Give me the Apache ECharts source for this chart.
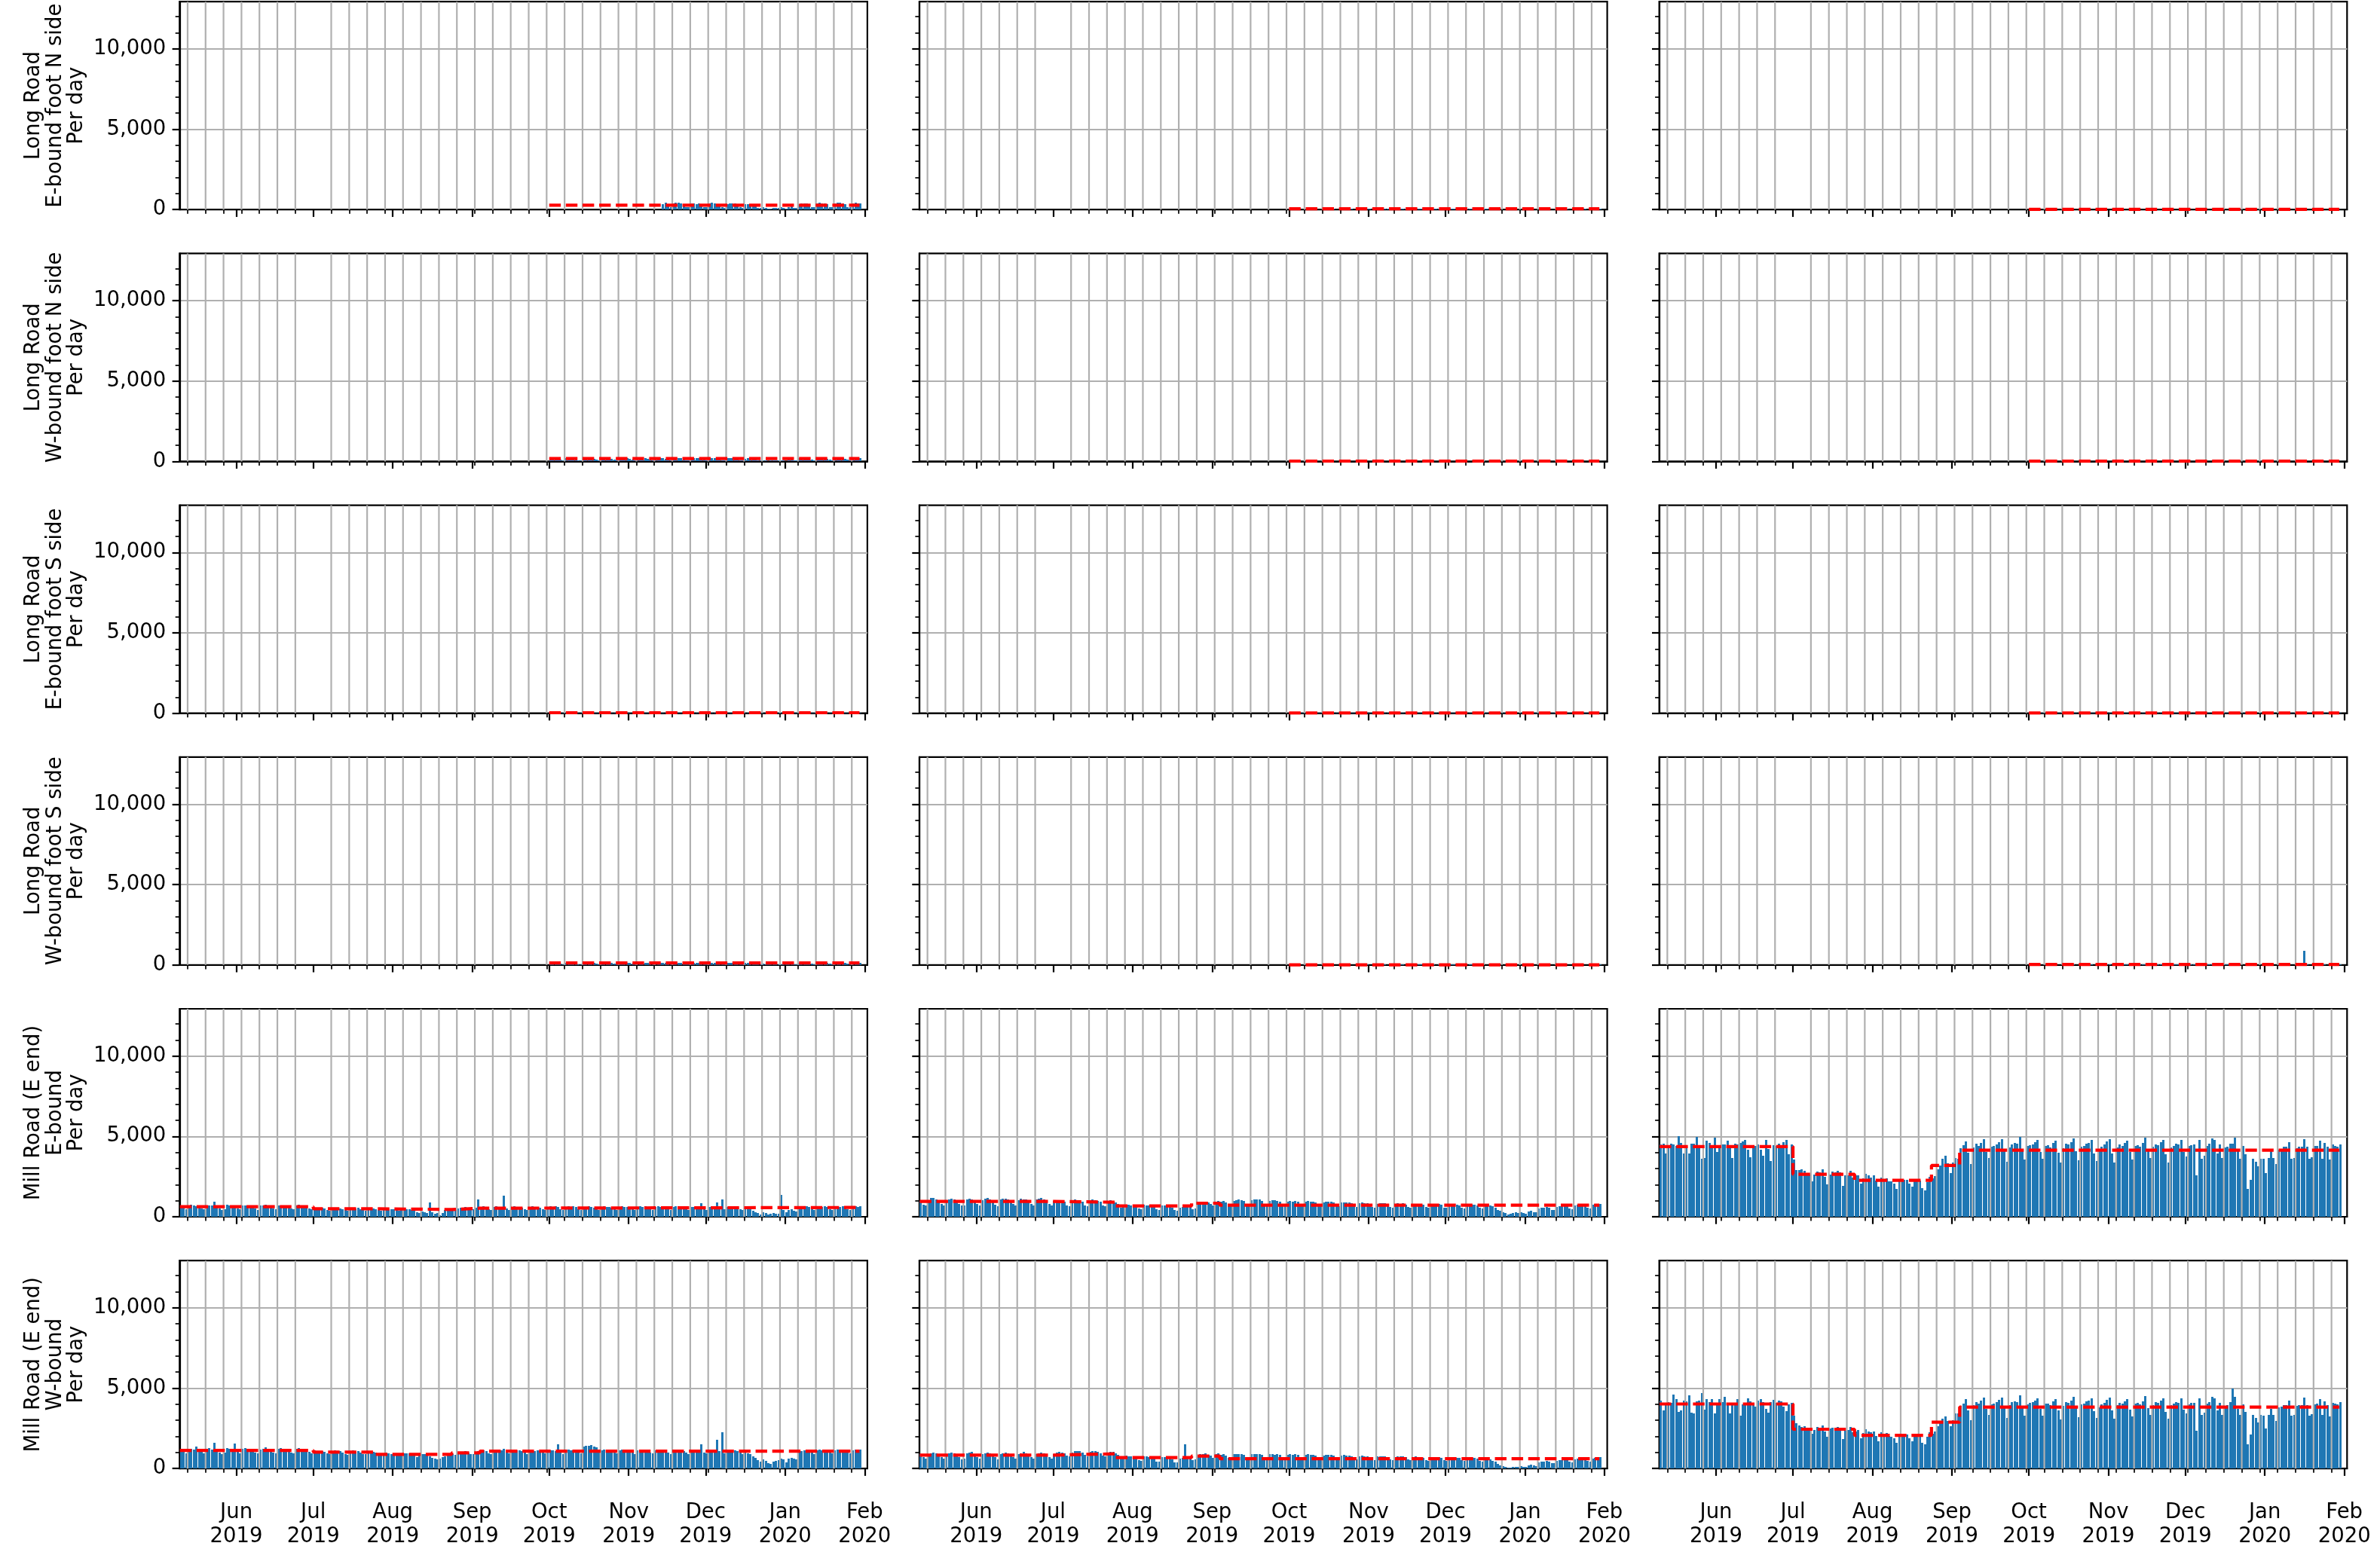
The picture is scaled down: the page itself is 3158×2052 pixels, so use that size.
<!DOCTYPE html>
<html>
<head>
<meta charset="utf-8">
<title>Daily counts</title>
<script src="https://cdn.jsdelivr.net/npm/echarts@6/dist/echarts.min.js"></script>
<style>
  html, body { margin: 0; padding: 0; background: #fff; }
  #chart { width: 3158px; height: 2052px; }
</style>
</head>
<body>
<div id="chart"></div>
<script>
// ---- axis data ----
const monthTicks = ['2019-06-01', '2019-07-01', '2019-08-01', '2019-09-01', '2019-10-01',
                    '2019-11-01', '2019-12-01', '2020-01-01', '2020-02-01'];
const monthTickLabels = ['Jun\n2019', 'Jul\n2019', 'Aug\n2019', 'Sep\n2019', 'Oct\n2019',
                         'Nov\n2019', 'Dec\n2019', 'Jan\n2020', 'Feb\n2020'];
const yTicks = [0, 5000, 10000];
const yTickLabels = ['0', '5,000', '10,000'];
const yMinorTicks = [1000, 2000, 3000, 4000, 6000, 7000, 8000, 9000, 11000, 12000];

const rowLabels = [
  'Long Road\nE-bound foot N side\nPer day',
  'Long Road\nW-bound foot N side\nPer day',
  'Long Road\nE-bound foot S side\nPer day',
  'Long Road\nW-bound foot S side\nPer day',
  'Mill Road (E end)\nE-bound\nPer day',
  'Mill Road (E end)\nW-bound\nPer day'
];

const lastDay = '2020-01-30';
// periods used for the red (mean) line
const fullPeriods = ['2019-05-10', '2019-07-01', '2019-07-25', '2019-08-24', '2019-09-04'];
const latePeriods = ['2019-10-01'];

// ---- daily counts ----
const lrEN1 = [ // from 14 Nov
  340,420,180,150,390,440,410,380,350,160,130,370,400,360,390,330,170,
  140,380,420,390,300,360,150,120,350,380,400,370,320,150,110,330,350,310,270,220,100,90,150,110,40,70,120,90,80,130,110,
  60,160,190,120,110,330,380,400,390,350,170,140,370,420,390,400,360,160,130,390,430,410,380,350,170,140,380,420,400,390];
const lrEN2 = [
  62,58,66,54,31,27,60,64,59,63,52,29,24,57,61,66,62,55,30,26,58,63,60,57,50,28,23,55,62,59,64,
  53,32,25,60,65,61,58,54,30,27,62,66,59,63,55,31,26,59,64,60,61,52,29,24,56,62,58,60,51,30,
  25,61,64,60,57,53,28,24,58,62,65,61,50,27,22,55,58,52,44,38,20,17,26,21,9,12,19,16,14,22,18,
  11,27,31,20,18,57,63,60,64,56,29,25,61,66,62,65,58,31,27,62,67,63,60,55,30,26,61,66,63,65];
const lrEN3 = [
  14,12,15,11,6,5,13,14,12,15,10,6,4,12,13,15,14,11,6,5,12,14,13,12,10,5,4,12,13,12,14,
  11,6,5,13,14,12,12,11,6,5,13,15,12,14,11,6,5,12,14,13,13,10,6,4,12,13,12,13,10,6,
  5,13,14,12,12,11,5,4,12,13,14,13,10,5,4,11,12,10,9,7,4,3,5,4,2,2,4,3,3,4,3,
  2,5,6,4,4,12,13,13,14,11,6,5,13,14,13,14,12,6,5,13,15,14,13,11,6,5,13,14,13,14];
const lrWN1 = [
  190,205,198,176,92,80,185,200,210,195,170,88,75,188,203,212,196,180,95,82,192,205,199,190,168,90,78,186,200,207,194,
  172,91,79,190,208,201,197,174,93,80,189,206,210,199,176,94,81,191,204,200,198,170,88,77,185,203,196,200,168,90,
  79,188,205,199,160,180,87,74,183,200,207,198,171,89,76,180,192,185,160,130,70,60,88,72,30,45,75,62,55,82,70,
  40,95,110,78,70,183,199,206,201,175,92,80,190,207,203,209,180,94,82,193,210,204,199,178,93,81,191,208,202,206];
const lrWN2 = [
  24,22,26,21,11,9,23,25,22,24,20,10,8,22,24,26,23,21,11,9,23,25,24,22,19,10,8,21,24,23,25,
  20,11,9,23,26,24,22,20,10,9,24,25,23,24,21,11,9,22,25,23,24,19,10,8,22,24,22,23,19,10,
  9,23,25,23,22,20,10,8,22,24,25,23,19,10,8,21,22,20,17,14,7,6,9,8,4,5,7,6,5,8,6,
  4,9,11,8,7,22,24,23,25,21,11,9,23,26,24,25,22,11,9,24,26,25,23,21,11,10,23,25,24,25];
const lrWN3 = [
  17,16,18,15,8,7,16,18,17,16,14,8,6,16,17,18,16,15,8,7,16,18,17,16,14,7,6,15,17,16,18,
  15,8,7,16,18,17,16,14,8,7,17,18,16,17,15,8,7,16,18,17,17,14,8,6,16,17,16,17,14,8,
  7,16,18,17,16,14,7,6,16,17,18,17,14,8,6,15,16,14,12,10,5,4,7,6,3,4,5,5,4,6,5,
  3,7,8,6,5,16,17,17,18,15,8,7,16,18,17,18,15,8,7,17,18,17,16,15,8,7,16,18,17,18];
const lrES1 = [
  35,33,37,31,15,13,34,36,33,35,29,14,12,33,35,37,34,31,15,13,34,36,35,33,28,14,12,32,35,34,36,
  30,15,13,34,37,35,33,30,15,13,35,36,34,35,31,15,13,33,36,34,35,29,14,12,33,35,33,34,28,14,
  13,33,36,34,32,29,14,11,33,35,36,34,28,14,11,31,33,30,26,21,10,8,13,11,5,7,11,9,8,12,10,
  6,13,16,12,10,33,35,34,36,31,15,13,34,37,35,36,32,15,13,35,37,36,34,31,15,14,34,36,35,36];
const lrES2 = [
  16,15,17,14,7,6,15,17,16,15,13,7,6,15,16,17,15,14,7,6,15,17,16,15,13,7,5,14,16,15,17,
  14,7,6,15,17,16,15,13,7,6,16,17,15,16,14,7,6,15,17,16,16,13,7,6,15,16,15,16,13,7,
  6,15,17,16,15,13,7,5,15,16,17,16,13,7,5,14,15,13,11,9,5,4,6,5,2,3,5,4,4,5,4,
  3,6,7,5,5,15,16,16,17,14,7,6,15,17,16,17,14,7,6,16,17,16,15,14,7,6,15,17,16,17];
const lrES3 = [
  14,16,15,17,8,6,15,16,18,15,14,7,6,16,15,17,16,13,8,6,14,16,15,17,13,7,6,15,16,17,15,
  13,7,6,16,15,17,16,14,7,6,15,16,17,15,13,8,6,16,15,16,17,14,7,5,16,15,17,15,12,7,
  6,16,15,17,14,13,7,5,16,15,16,17,12,7,5,15,14,13,12,8,4,4,6,5,2,3,4,5,3,5,4,
  3,5,7,6,4,15,16,17,16,14,7,6,16,15,17,16,14,8,6,15,17,16,15,13,7,6,16,15,17,16];
const lrWS1 = [
  135,142,138,128,62,55,132,140,146,137,120,60,52,131,141,148,136,125,64,56,134,142,139,132,117,61,53,130,139,144,135,
  120,62,54,133,145,140,137,121,63,55,132,143,146,138,122,64,56,133,142,140,138,118,60,53,129,141,136,139,117,62,
  55,131,142,138,112,125,60,51,127,139,144,137,119,61,52,125,133,128,111,90,48,41,61,50,21,31,52,43,38,57,49,
  28,66,77,54,49,127,138,143,140,121,64,56,132,144,141,146,125,65,57,134,146,142,138,124,64,56,133,145,140,143];
const lrWS2 = [
  15,14,16,13,7,6,15,16,15,14,12,6,5,14,15,16,15,13,7,6,15,16,15,14,12,6,5,14,15,15,16,
  13,7,6,15,16,15,15,13,7,6,15,16,15,15,13,7,6,14,16,15,15,12,6,5,14,15,14,15,12,6,
  5,14,16,15,14,12,6,5,14,15,16,15,12,6,5,13,14,12,10,8,4,3,5,4,2,3,4,3,3,4,3,
  2,5,6,4,4,14,15,15,16,13,7,6,15,16,15,16,13,7,6,15,16,15,15,13,7,6,15,16,15,16];
const lrWS3 = [
  28,26,30,25,12,10,27,29,26,28,23,11,9,27,28,30,27,24,12,10,27,29,28,26,22,11,9,26,28,27,29,
  24,12,10,27,30,28,26,24,12,10,28,29,27,28,25,12,10,26,29,27,28,23,11,9,26,28,26,27,22,11,
  10,26,29,27,26,23,11,9,26,28,29,27,22,11,9,25,26,24,21,17,8,7,10,9,4,6,9,7,6,9,8,
  5,10,12,9,8,26,28,27,29,25,12,10,27,30,28,875,26,12,10,28,30,29,27,25,12,11,27,29,28,29];

const mrE1 = [
  640,560,480,700,730,690,660,610,520,450,720,700,680,940,590,500,430,470,760,700,670,620,
  530,460,700,680,720,650,600,510,440,690,710,740,660,590,500,450,720,690,700,660,610,520,460,710,740,720,690,600,520,470,
  560,540,520,560,500,430,390,540,560,510,530,480,410,380,550,570,520,540,490,420,380,560,540,510,
  490,440,390,470,500,480,460,
  470,430,380,490,480,460,470,440,390,270,240,310,260,230,880,280,190,250,90,240,420,450,430,
  480,420,500,560,540,590,530,470,
  460,560,1090,
  600,640,580,470,430,620,650,610,630,1310,500,440,610,640,600,620,570,480,420,630,650,600,620,580,470,430,610,
  640,600,660,590,490,440,620,650,610,640,600,470,430,600,630,650,610,580,480,430,620,640,600,630,570,480,420,610,650,620,600,
  580,470,430,620,660,610,640,590,480,440,610,640,620,650,590,470,420,600,640,620,650,580,470,430,610,630,600,620,860,480,
  440,610,640,620,900,590,1090,450,600,620,640,600,560,460,420,520,500,470,380,300,220,160,260,220,120,170,240,200,190,1350,420,
  260,430,470,380,350,600,640,620,650,590,470,420,620,660,630,640,600,480,430,630,650,620,640,590,470,430,610,640,620,650];
const mrE2 = [
  980,760,690,1050,1170,1150,1080,1000,800,700,1020,1100,1130,1060,1000,790,680,720,1090,1120,1060,990,
  780,690,1040,1110,1150,1080,990,770,670,1060,1120,1140,1090,1010,780,690,1050,1130,1100,1070,1000,800,700,1060,1120,1150,1090,1030,790,700,
  1000,1050,1020,980,920,720,660,990,1060,1040,1000,930,710,650,1010,1070,1030,990,920,700,640,980,1020,1000,
  870,790,560,600,760,740,720,
  730,690,520,480,740,720,700,680,640,460,420,690,680,650,600,580,420,390,560,620,600,640,610,
  480,520,800,860,900,930,880,780,
  700,950,980,
  940,970,910,760,700,980,1010,1060,1040,990,800,720,1030,1080,1060,1090,1000,810,730,1000,1040,1010,980,940,770,690,960,
  980,950,1000,920,740,680,960,1000,940,920,880,700,640,900,950,920,930,870,690,640,880,910,870,890,840,650,600,840,870,850,830,
  790,620,580,820,860,830,840,780,610,560,800,840,810,830,770,600,550,790,820,800,810,750,590,540,770,800,780,790,740,580,
  540,760,790,770,750,720,570,520,740,770,760,740,700,560,510,700,720,690,640,560,420,360,300,250,150,190,240,260,220,270,230,
  200,330,380,300,280,520,560,580,600,570,440,410,620,660,650,680,640,500,460,700,730,720,740,700,560,520,760,790,770,800];
const mrE3 = [
  4480,4560,3960,4250,4560,4510,4400,5000,4600,3930,4290,3960,4560,4530,4950,4250,3630,3660,4720,4600,4430,4900,
  4010,4400,4510,4500,4720,4280,3680,4560,4510,4600,4670,4800,4170,3700,4390,4400,4480,4170,3780,4780,4230,3480,4450,4400,4560,4250,4640,4760,3900,4500,
  3580,2910,2900,2950,2880,2670,2620,2190,2640,2810,2750,2950,2500,2030,2620,2810,2770,2860,2770,1940,2580,2590,2860,2440,
  2560,2600,2050,2400,2690,2580,2460,
  2560,2230,1880,2460,2350,2380,2200,2190,2050,1720,2330,2240,2290,2310,2080,1860,2190,2280,2250,1760,1640,2150,2480,
  2370,2540,2950,3210,3590,3800,3340,2700,
  3380,3640,3600,
  4260,4450,4690,3980,3260,4300,4560,4420,4600,4820,4050,3650,4380,4430,4520,4660,4850,4120,3420,4310,4500,4610,4530,4970,4180,3580,4390,
  4460,4520,4620,4790,4030,3630,4410,4450,4320,4580,4720,3990,3360,4270,4540,4480,4630,4860,4090,3520,4360,4420,4550,4610,4780,3920,3480,4150,4370,4500,4690,
  4830,3960,3390,4300,4490,4410,4580,4720,4010,3550,4420,4470,4380,4600,4900,4130,3640,4350,4520,4450,4640,4760,3880,3380,4320,4410,4530,4480,4790,4010,
  3770,4390,4450,4480,2590,4760,3630,3820,4430,4530,4860,4760,3960,4480,3680,4290,4340,4530,4530,4900,4060,3630,4390,3870,1750,2310,3630,3440,3160,3630,3590,
  2740,3680,4060,3680,3260,4150,4200,4340,4340,4620,3590,3650,4250,4340,4340,4810,4340,3590,3720,4390,4430,4720,3630,4580,4340,3560,4480,4420,4380,4510];
const mrW1 = [
  1160,1030,940,1210,1250,1190,1380,1200,1080,960,1230,1260,1200,1620,1080,990,920,1010,1270,1240,1180,1570,
  1050,970,1230,1260,1210,1180,1090,980,940,1200,1250,1300,1190,1100,1000,960,1220,1260,1240,1190,1110,990,950,1230,1280,1250,1210,1120,1020,960,
  1130,1090,1060,1100,1020,930,890,1080,1120,1050,1070,1000,910,870,1100,1130,1060,1080,1010,920,880,1090,1070,1050,
  990,930,860,940,980,950,920,
  940,900,820,960,950,930,940,890,800,700,900,880,920,870,760,650,620,560,600,700,780,870,900,
  900,860,980,1050,1020,1080,1010,920,
  880,1030,1090,
  1100,1150,1080,960,900,1120,1160,1110,1130,1210,1000,930,1100,1150,1120,1140,1090,980,920,1130,1160,1110,1140,1080,990,930,1120,
  1150,1130,1090,1520,980,920,1130,1170,1120,1150,1100,990,930,1380,1420,1400,1450,1390,1300,1040,1130,1170,1120,1150,1100,990,930,1120,1160,1130,1140,
  1090,990,920,1130,1170,1140,1150,1100,1000,930,1120,1160,1140,1170,1100,990,920,1130,1160,1150,1170,1090,980,920,1120,1150,1130,1160,1520,1000,
  930,1120,1160,1140,1770,1100,2240,940,1120,1150,1170,1130,1080,980,920,1000,960,880,760,650,520,440,560,480,350,290,430,470,520,640,580,
  400,620,680,600,560,1050,1100,1130,1120,1090,980,920,1120,1160,1140,1170,1100,1000,930,1130,1170,1150,1180,1100,1000,940,1130,1160,1150,1170];
const mrW2 = [
  900,720,620,880,940,1010,970,900,700,600,870,960,1000,950,880,690,590,640,930,990,1040,890,
  720,610,880,950,990,940,870,700,590,900,960,1000,950,870,690,600,890,960,1020,960,880,710,600,900,970,1010,950,880,700,620,
  900,980,1020,1000,960,820,760,1010,1090,1110,1080,1000,850,780,1030,1100,1080,1050,960,800,740,990,1050,1020,
  960,860,640,700,820,780,760,
  740,700,520,500,760,750,720,700,650,450,420,720,700,680,640,580,400,380,620,660,1500,640,620,
  540,560,820,880,920,940,870,800,
  680,900,960,
  850,880,820,680,620,880,910,900,880,850,690,630,900,920,890,910,850,680,620,880,900,870,880,840,660,600,860,
  880,850,890,830,670,610,860,890,850,830,800,640,590,820,860,840,850,790,630,580,800,830,800,810,770,600,560,770,800,780,760,
  730,580,540,750,780,760,770,720,560,520,730,760,740,750,700,550,510,720,740,720,730,680,540,500,700,720,700,710,670,520,
  480,690,710,700,680,650,510,470,670,690,680,660,620,490,450,600,590,560,500,420,300,220,160,120,60,40,90,110,100,140,120,
  90,180,240,200,170,380,420,440,470,450,360,330,500,540,530,560,520,420,390,580,600,590,610,580,470,440,640,680,660,700];
const mrW3 = [
  4220,3640,4000,4140,4110,4610,4300,3520,3640,4240,4190,4560,3470,3450,4160,4240,4700,3670,4300,4140,4300,3410,
  4030,4300,4140,4470,4110,3410,3950,4060,4300,3300,4000,4050,4380,4190,3960,3870,4210,4320,4130,3720,3460,4150,4260,4090,4240,4180,3840,3590,4010,4100,
  3290,2800,2700,2580,2650,2490,2530,2150,2420,2600,2520,2680,2310,1990,2490,2560,2470,2610,2530,1860,2370,2410,2590,2280,
  2330,2380,1890,2190,2450,2310,2260,
  2300,2040,1710,2260,2150,2190,2010,1990,1870,1580,2130,2060,2110,2120,1900,1700,2000,2090,2050,1620,1530,1960,2240,
  2160,2310,2640,2860,3090,3250,2940,2630,
  3020,3440,3420,
  3880,4050,4300,3640,2990,3930,4150,4020,4210,4400,3700,3330,3990,4050,4130,4260,4420,3760,3130,3930,4120,4200,4140,4540,3800,3280,4000,
  4070,4120,4230,4380,3690,3310,4020,4060,3950,4180,4320,3640,3080,3890,4150,4090,4240,4440,3740,3210,3980,4040,4160,4210,4370,3580,3170,3790,3990,4110,4290,
  4420,3620,3100,3930,4100,4030,4190,4320,3660,3240,4040,4080,4000,4200,4490,3770,3320,3970,4130,4070,4240,4350,3540,3090,3950,4030,4140,4090,4380,3660,
  3440,4010,4070,4100,2370,4350,3320,3490,4050,4140,4440,4350,3620,4100,3360,3920,3970,4140,4990,4480,3710,3320,4010,3540,1510,2110,3320,3140,2890,3320,3280,
  2500,3360,3710,3360,2980,3790,3840,3970,3970,4220,3280,3340,3880,3970,3970,4400,3970,3280,3400,4010,4050,4310,3320,4190,3970,3250,4100,4040,4000,4120];

// ---- period means (red dashed line) ----
const lrENMeans = [[270], [50], [11]];
const lrWNMeans = [[175], [19], [14]];
const lrESMeans = [[28], [13], [13]];
const lrWSMeans = [[125], [12], [28]];
const mrEMeans = [[625, 500, 453, 531, 578], [953, 906, 672, 844, 719], [4370, 2647, 2269, 3193, 4139]];
const mrWMeans = [[1133, 1024, 883, 977, 1086], [836, 915, 680, 774, 617], [4017, 2448, 2071, 2887, 3828]];

const rows = [
  { bars: [lrEN1, lrEN2, lrEN3], first: ['2019-11-14', '2019-10-01', '2019-10-01'], periods: latePeriods, means: lrENMeans },
  { bars: [lrWN1, lrWN2, lrWN3], first: ['2019-10-01', '2019-10-01', '2019-10-01'], periods: latePeriods, means: lrWNMeans },
  { bars: [lrES1, lrES2, lrES3], first: ['2019-10-01', '2019-10-01', '2019-10-01'], periods: latePeriods, means: lrESMeans },
  { bars: [lrWS1, lrWS2, lrWS3], first: ['2019-10-01', '2019-10-01', '2019-10-01'], periods: latePeriods, means: lrWSMeans },
  { bars: [mrE1, mrE2, mrE3], first: ['2019-05-10', '2019-05-10', '2019-05-10'], periods: fullPeriods, means: mrEMeans },
  { bars: [mrW1, mrW2, mrW3], first: ['2019-05-10', '2019-05-10', '2019-05-10'], periods: fullPeriods, means: mrWMeans }
];

// ---- layout ----
const DAY = 86400000;
const toTime = s => Date.parse(s + 'T00:00:00Z');
const xMin = toTime('2019-05-10') - 0.13 * DAY;
const xMax = toTime('2020-02-02') + 0.07 * DAY;
const yMax = 12940;
const colLeft = [238.3, 1220, 2201.7];
const plotW = 912.6, plotH = 276;
const rowTop = r => 2.2 + r * 334.2;
const FONT = 'DejaVu Sans';
const BAR_PX = 3;   // bar width in pixels, bar starts at midnight of its day

const monthTimes = monthTicks.map(toTime);
const weekTimes = [];
for (let d = toTime('2019-05-13'); d < xMax; d += 7 * DAY) {
  if (new Date(d).getUTCDate() !== 1) weekTimes.push(d);   // minor tick hidden under month tick
}

function meanLine(periods, means) {
  const pts = [];
  for (let k = 0; k < means.length; k++) {
    const a = toTime(periods[k]);
    const b = k + 1 < periods.length ? toTime(periods[k + 1]) : toTime(lastDay);
    pts.push([a, means[k]], [b, means[k]]);
  }
  return pts;
}

// daily bar, edges snapped to whole pixels
function renderBar(params, api) {
  const top = api.coord([api.value(0), api.value(1)]);
  const base = api.coord([api.value(0), 0]);
  const x0 = Math.round(top[0]);
  const y0 = Math.round(top[1]), y1 = Math.round(base[1]);
  return { type: 'rect', shape: { x: x0, y: y0, width: BAR_PX, height: y1 - y0 },
           style: { fill: '#1f77b4' } };
}

function renderWeekLine(params, api) {
  const a = api.coord([api.value(0), yMax]);
  const b = api.coord([api.value(0), 0]);
  return { type: 'line', shape: { x1: a[0], y1: a[1], x2: b[0], y2: b[1] },
           style: { stroke: '#b0b0b0', lineWidth: 2.2 } };
}

const grids = [], xAxes = [], yAxes = [], series = [];
rows.forEach((row, r) => {
  for (let c = 0; c < 3; c++) {
    const p = r * 3 + c;
    grids.push({
      left: colLeft[c], top: rowTop(r), width: plotW, height: plotH,
      show: true, borderColor: '#000', borderWidth: 2.2,
      containLabel: false, outerBoundsMode: 'none'
    });
    // x values are timestamps (ms); month ticks and weekly ticks are placed explicitly
    xAxes.push({
      type: 'value', gridIndex: p, min: xMin, max: xMax, position: 'bottom',
      axisLine: { show: true, lineStyle: { color: '#000', width: 2.2 } },
      axisTick: { show: true, customValues: monthTimes, length: 9.7, lineStyle: { color: '#000', width: 2.2 } },
      axisLabel: {
        show: r === 5, customValues: monthTimes, margin: 43,
        fontFamily: FONT, fontSize: 27.5, lineHeight: 32, color: '#000',
        formatter: v => monthTickLabels[monthTimes.indexOf(+v)] || ''
      },
      splitLine: { show: false }
    });
    xAxes.push({
      type: 'value', gridIndex: p, min: xMin, max: xMax, position: 'bottom',
      axisLine: { show: false },
      axisTick: { show: true, customValues: weekTimes, length: 5.6, lineStyle: { color: '#000', width: 1.7 } },
      axisLabel: { show: false },
      splitLine: { show: false }
    });
    yAxes.push({
      type: 'value', gridIndex: p, min: 0, max: yMax, interval: 5000, position: 'left',
      axisLine: { show: true, lineStyle: { color: '#000', width: 2.2 } },
      axisTick: { show: true, customValues: yTicks, length: 9.7, lineStyle: { color: '#000', width: 2.2 } },
      axisLabel: {
        show: c === 0, customValues: yTicks, margin: 18,
        fontFamily: FONT, fontSize: 27.5, color: '#000',
        formatter: v => yTickLabels[yTicks.indexOf(+v)]
      },
      splitLine: { show: true, lineStyle: { color: '#b0b0b0', width: 2.2 } },
      name: c === 0 ? rowLabels[r] : '',
      nameLocation: 'middle', nameRotate: 90, nameGap: 122,
      nameTextStyle: { fontFamily: FONT, fontSize: 27.5, lineHeight: 28.5, color: '#000', align: 'center' }
    });
    yAxes.push({
      type: 'value', gridIndex: p, min: 0, max: yMax, position: 'left',
      axisLine: { show: false },
      axisTick: { show: true, customValues: yMinorTicks, length: 5.6, lineStyle: { color: '#000', width: 1.7 } },
      axisLabel: { show: false },
      splitLine: { show: false }
    });

    const start = toTime(row.first[c]);
    series.push({
      type: 'custom', name: 'daily', xAxisIndex: 2 * p, yAxisIndex: 2 * p, silent: true, z: 2, clip: true,
      encode: { x: 0, y: 1 },
      data: row.bars[c].map((v, i) => [start + i * DAY, v]),
      renderItem: renderBar
    });
    series.push({
      type: 'custom', xAxisIndex: 2 * p, yAxisIndex: 2 * p, silent: true, z: 3,
      data: weekTimes.map(w => [w, yMax]),
      encode: { x: 0, y: 1 },
      renderItem: renderWeekLine
    });
    series.push({
      type: 'line', name: 'period mean', xAxisIndex: 2 * p, yAxisIndex: 2 * p, silent: true, z: 4,
      symbol: 'none',
      lineStyle: { color: '#ff0000', width: 4.2, type: [15.4, 6.7] },
      data: meanLine(row.periods, row.means[c])
    });
  }
});

const chart = echarts.init(document.getElementById('chart'), null, { renderer: 'canvas' });
chart.setOption({
  animation: false,
  backgroundColor: '#fff',
  grid: grids,
  xAxis: xAxes,
  yAxis: yAxes,
  series: series
});

// sanity check on data lengths
const expectDays = (a, b) => Math.round((toTime(b) - toTime(a)) / DAY) + 1;
rows.forEach((row, r) => row.bars.forEach((arr, c) => {
  const n = expectDays(row.first[c], lastDay);
  if (arr.length !== n) throw new Error('row ' + r + ' col ' + c + ': ' + arr.length + ' values, expected ' + n);
}));
</script>
</body>
</html>
